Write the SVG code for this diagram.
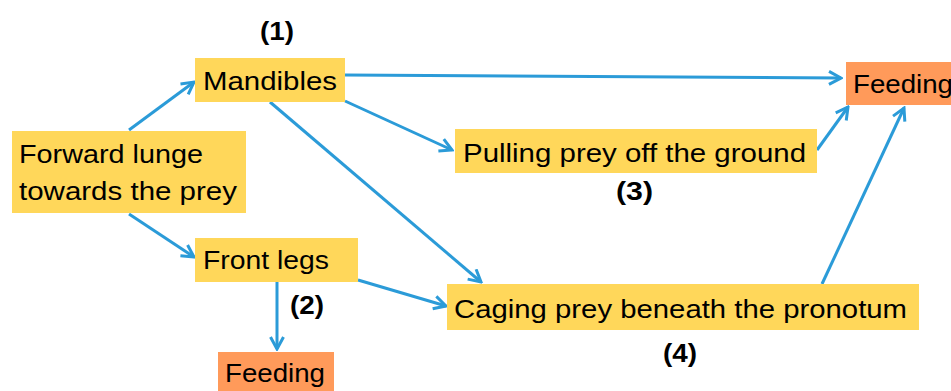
<svg xmlns="http://www.w3.org/2000/svg" width="951" height="391" viewBox="0 0 951 391">
<style>
.step{fill:#FFD75A}
.feed{fill:#FF9A5A}
.t{font-family:"Liberation Sans",Arial,sans-serif;font-size:26px;fill:#000}
.lbl{font-family:"Liberation Sans",Arial,sans-serif;font-size:26px;font-weight:bold;fill:#000}
.c{stroke:#2B9BD8;stroke-width:3;fill:none;marker-end:url(#ah)}
</style>
<defs>
<marker id="ah" viewBox="0 0 16 16" refX="14" refY="8" markerWidth="16" markerHeight="16" markerUnits="userSpaceOnUse" orient="auto">
<path d="M2,1.5 L14,8 L2,14.5" fill="none" stroke="#2B9BD8" stroke-width="3"/>
</marker>
</defs>
<rect width="951" height="391" fill="#fff"/>
<g id="connectors">
<line class="c" x1="129" y1="130" x2="194" y2="82"/>
<line class="c" x1="129" y1="214" x2="194" y2="257"/>
<line class="c" x1="345" y1="75" x2="841" y2="78"/>
<line class="c" x1="345" y1="101" x2="452" y2="150"/>
<line class="c" x1="270" y1="102" x2="481" y2="282"/>
<line class="c" x1="277" y1="282" x2="277" y2="349"/>
<line class="c" x1="358" y1="280" x2="446" y2="306"/>
<line class="c" x1="817" y1="150" x2="848" y2="107"/>
<line class="c" x1="822" y1="284" x2="904" y2="108"/>
</g>
<g id="lunge">
<rect class="step" x="12" y="131" width="234" height="82"/>
<text class="t" x="19" y="163" textLength="184" lengthAdjust="spacingAndGlyphs">Forward lunge</text>
<text class="t" x="19" y="200" textLength="218" lengthAdjust="spacingAndGlyphs">towards the prey</text>
</g>
<g id="mandibles">
<rect class="step" x="195" y="58" width="150" height="44"/>
<text class="t" x="203" y="90" textLength="134" lengthAdjust="spacingAndGlyphs">Mandibles</text>
</g>
<g id="frontlegs">
<rect class="step" x="195" y="238" width="163" height="44"/>
<text class="t" x="203" y="269" textLength="126" lengthAdjust="spacingAndGlyphs">Front legs</text>
</g>
<g id="pulling">
<rect class="step" x="455" y="129" width="362" height="44"/>
<text class="t" x="463" y="162" textLength="343" lengthAdjust="spacingAndGlyphs">Pulling prey off the ground</text>
</g>
<g id="caging">
<rect class="step" x="447" y="284" width="472" height="46"/>
<text class="t" x="454" y="318" textLength="453" lengthAdjust="spacingAndGlyphs">Caging prey beneath the pronotum</text>
</g>
<g id="feeding1">
<rect class="feed" x="846" y="62" width="117" height="43"/>
<text class="t" x="853" y="93" textLength="100" lengthAdjust="spacingAndGlyphs">Feeding</text>
</g>
<g id="feeding2">
<rect class="feed" x="218" y="352" width="116" height="45"/>
<text class="t" x="225" y="382" textLength="100" lengthAdjust="spacingAndGlyphs">Feeding</text>
</g>
<g id="labels">
<text class="lbl" x="260" y="40" textLength="34" lengthAdjust="spacingAndGlyphs">(1)</text>
<text class="lbl" x="290" y="314" textLength="34" lengthAdjust="spacingAndGlyphs">(2)</text>
<text class="lbl" x="616" y="200" textLength="37" lengthAdjust="spacingAndGlyphs">(3)</text>
<text class="lbl" x="663" y="362" textLength="34" lengthAdjust="spacingAndGlyphs">(4)</text>
</g>
</svg>
